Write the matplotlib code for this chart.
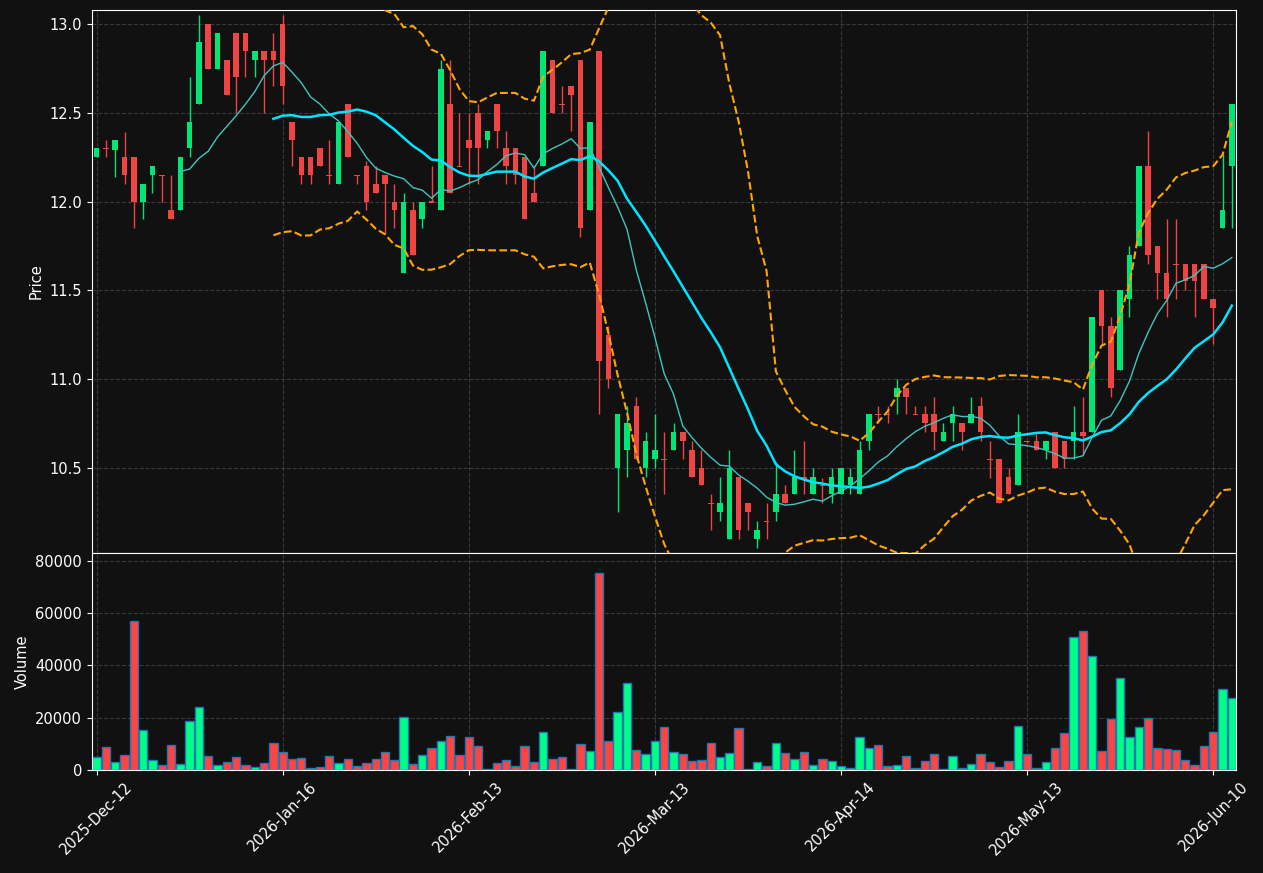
import numpy as np
import pandas as pd
import matplotlib
matplotlib.use("Agg")
import matplotlib.pyplot as plt

# ---------------------------------------------------------------------
# daily OHLCV, one row per trading session (index 0 .. 122)
opens = [12.25, 12.30, 12.29, 12.25, 12.25, 12.00, 12.15, 12.15, 11.95, 11.95,
         12.30, 12.55, 13.00, 12.75, 12.80, 12.95, 12.95, 12.80, 12.85, 12.85,
         13.00, 12.45, 12.25, 12.25, 12.30, 12.15, 12.10, 12.55, 12.15, 12.20,
         12.10, 12.15, 12.00, 11.60, 11.95, 11.90, 12.00, 11.95, 12.55, 12.20,
         12.35, 12.50, 12.35, 12.55, 12.30, 12.30, 12.25, 12.05, 12.20, 12.80,
         12.55, 12.65, 12.80, 11.95, 12.85, 11.25, 10.50, 10.60, 10.85, 10.50,
         10.55, 10.55, 10.60, 10.70, 10.60, 10.50, 10.30, 10.25, 10.10, 10.45,
         10.30, 10.10, 10.20, 10.25, 10.35, 10.35, 10.45, 10.35, 10.40, 10.35,
         10.35, 10.40, 10.35, 10.65, 10.80, 10.80, 10.90, 10.95, 10.80, 10.80,
         10.80, 10.65, 10.75, 10.75, 10.75, 10.85, 10.55, 10.55, 10.45, 10.40,
         10.65, 10.65, 10.60, 10.70, 10.65, 10.65, 10.70, 10.70, 11.50, 11.30,
         11.05, 11.45, 11.75, 12.20, 11.75, 11.60, 11.65, 11.65, 11.65, 11.65,
         11.45, 11.85, 12.20]
highs = [12.30, 12.35, 12.35, 12.39, 12.25, 12.10, 12.20, 12.15, 12.15, 12.25,
         12.70, 13.05, 13.00, 12.95, 12.80, 12.95, 12.95, 12.85, 12.85, 12.95,
         13.05, 12.45, 12.25, 12.25, 12.30, 12.35, 12.45, 12.55, 12.15, 12.23,
         12.20, 12.15, 12.10, 12.05, 12.00, 12.00, 12.20, 12.80, 12.80, 12.50,
         12.50, 12.55, 12.40, 12.55, 12.40, 12.30, 12.25, 12.20, 12.85, 12.80,
         12.65, 12.65, 12.80, 12.45, 12.85, 11.30, 10.80, 10.85, 10.90, 10.70,
         10.80, 10.70, 10.75, 10.70, 10.65, 10.60, 10.35, 10.45, 10.60, 10.45,
         10.30, 10.20, 10.30, 10.53, 10.40, 10.60, 10.65, 10.50, 10.44, 10.50,
         10.50, 10.50, 10.65, 10.80, 10.85, 10.85, 11.00, 10.95, 10.85, 10.85,
         10.90, 10.75, 10.85, 10.75, 10.90, 10.90, 10.65, 10.55, 10.50, 10.80,
         10.65, 10.70, 10.65, 10.70, 10.65, 10.85, 10.90, 11.35, 11.50, 11.35,
         11.50, 11.75, 12.20, 12.40, 11.75, 11.90, 11.90, 11.65, 11.65, 11.65,
         11.45, 12.27, 12.55]
lows = [12.25, 12.25, 12.14, 12.10, 11.85, 11.90, 12.05, 12.00, 11.90, 11.95,
        12.25, 12.55, 12.75, 12.75, 12.60, 12.50, 12.70, 12.70, 12.50, 12.65,
        12.55, 12.20, 12.10, 12.10, 12.20, 12.10, 12.10, 12.25, 12.10, 11.95,
        12.05, 11.82, 11.85, 11.60, 11.70, 11.85, 12.00, 11.95, 12.05, 12.20,
        12.10, 12.10, 12.30, 12.30, 12.10, 12.10, 11.90, 12.00, 12.20, 12.50,
        12.50, 12.40, 11.80, 11.95, 10.80, 10.95, 10.25, 10.45, 10.55, 10.45,
        10.50, 10.35, 10.60, 10.55, 10.45, 10.40, 10.15, 10.20, 10.10, 10.10,
        10.15, 10.05, 10.10, 10.20, 10.30, 10.35, 10.35, 10.35, 10.30, 10.30,
        10.35, 10.35, 10.35, 10.60, 10.75, 10.75, 10.80, 10.80, 10.80, 10.70,
        10.60, 10.65, 10.65, 10.60, 10.75, 10.65, 10.44, 10.30, 10.35, 10.40,
        10.64, 10.60, 10.55, 10.50, 10.50, 10.55, 10.57, 10.70, 11.20, 10.90,
        11.05, 11.35, 11.75, 11.65, 11.45, 11.35, 11.45, 11.50, 11.35, 11.45,
        11.20, 11.85, 11.85]
closes = [12.30, 12.295, 12.35, 12.15, 12.00, 12.10, 12.20, 12.145, 11.90, 12.25,
          12.45, 12.90, 12.75, 12.95, 12.60, 12.70, 12.85, 12.85, 12.80, 12.80,
          12.65, 12.35, 12.15, 12.15, 12.20, 12.145, 12.45, 12.25, 12.145, 12.00,
          12.05, 12.10, 11.95, 12.00, 11.70, 12.00, 11.995, 12.75, 12.05, 12.195,
          12.30, 12.30, 12.40, 12.40, 12.20, 12.15, 11.90, 12.00, 12.85, 12.50,
          12.545, 12.60, 11.85, 12.45, 11.10, 11.00, 10.80, 10.75, 10.55, 10.65,
          10.60, 10.545, 10.70, 10.65, 10.45, 10.40, 10.295, 10.30, 10.50, 10.15,
          10.25, 10.15, 10.195, 10.35, 10.30, 10.45, 10.43, 10.45, 10.395, 10.45,
          10.50, 10.45, 10.60, 10.80, 10.795, 10.795, 10.95, 10.90, 10.795, 10.75,
          10.70, 10.70, 10.80, 10.70, 10.80, 10.70, 10.545, 10.30, 10.35, 10.70,
          10.645, 10.60, 10.65, 10.50, 10.55, 10.70, 10.68, 11.35, 11.30, 10.95,
          11.50, 11.70, 12.20, 11.70, 11.60, 11.45, 11.645, 11.55, 11.55, 11.45,
          11.40, 11.95, 12.55]
volumes = [4860, 8930, 2940, 5620, 56900, 15190, 3700, 1790, 9440, 2170,
           18630, 24000, 5230, 1790, 2940, 4860, 1790, 1280, 2550, 10200,
           6760, 4080, 4470, 640, 1020, 5230, 2550, 4080, 1400, 2550,
           4080, 6760, 3700, 20170, 2170, 5620, 8290, 10980, 12900, 5620,
           12510, 9070, 300, 2550, 3700, 1400, 9070, 2940, 14430, 4080,
           4860, 250, 9840, 7160, 75290, 10980, 22080, 33180, 7540, 6010,
           10980, 16330, 6760, 6010, 3330, 3700, 10200, 4860, 6390, 15960,
           250, 2940, 1400, 10200, 6390, 4080, 6760, 1790, 4080, 3330,
           1400, 640, 12510, 8290, 9440, 1400, 1790, 5230, 640, 3330,
           6010, 250, 5230, 640, 2170, 6010, 2940, 1280, 3330, 16720,
           6010, 640, 2940, 8290, 14040, 50790, 53090, 43520, 7160, 19400,
           35100, 12510, 16330, 19780, 8290, 7920, 7540, 3700, 1790, 9070,
           14430, 30880, 27440]

tick_pos = [0, 20, 40, 60, 80, 100, 120]
tick_labels = ["2025-Dec-12", "2026-Jan-16", "2026-Feb-13", "2026-Mar-13",
               "2026-Apr-14", "2026-May-13", "2026-Jun-10"]

BG = "#111111"
UP, DOWN = "#00e676", "#ef4444"
VUP, VDOWN = "#00ff88", "#ff4444"

plt.rcParams.update({
    "font.size": 10.5,
    "text.color": "white",
    "axes.labelcolor": "white",
    "xtick.color": "white",
    "ytick.color": "white",
    "axes.edgecolor": "white",
})

df = pd.DataFrame({"open": opens, "high": highs, "low": lows,
                   "close": closes, "volume": volumes})
x = np.arange(len(df))
up = df["close"] >= df["open"]

# indicators: 10/20 moving averages, 20-period Bollinger bands
ma10 = df["close"].rolling(10).mean()
ma20 = df["close"].rolling(20).mean()
sd20 = df["close"].rolling(20).std(ddof=0)
bb_up = ma20 + 2 * sd20
bb_lo = ma20 - 2 * sd20

fig = plt.figure(figsize=(12.63, 8.73), dpi=100, facecolor=BG)
gs = fig.add_gridspec(2, 1, height_ratios=[5, 2], hspace=0,
                      left=0.0728, right=0.979, top=0.9885, bottom=0.118)
ax = fig.add_subplot(gs[0])
axv = fig.add_subplot(gs[1], sharex=ax)

for a in (ax, axv):
    a.set_facecolor(BG)
    a.grid(True, linestyle="--", color="#555555", lw=0.8, alpha=0.6)
    a.set_axisbelow(True)

# candles
colors = np.where(up, UP, DOWN)
ax.vlines(x, df["low"], df["high"], color=colors, lw=1, zorder=2)
body = (df["close"] - df["open"]).abs().clip(lower=0.006)
bottom = df[["open", "close"]].min(axis=1)
ax.bar(x, body, bottom=bottom, width=0.6, color=colors, zorder=3)

ax.plot(x, ma10, color="#3fc4c0", lw=1, zorder=4)
ax.plot(x, ma20, color="#00e5ff", lw=1.8, zorder=4)
ax.plot(x, bb_up, color="orange", lw=1.5, ls="--", zorder=4)
ax.plot(x, bb_lo, color="orange", lw=1.5, ls="--", zorder=4)

ax.set_ylim(10.02, 13.08)
ax.set_xlim(-0.5, 122.5)
ax.set_ylabel("Price")
ax.tick_params(axis="x", labelbottom=False)

# volume
vcolors = np.where(up, VUP, VDOWN)
axv.bar(x, df["volume"], width=0.9, color=vcolors, edgecolor="#1f77b4", lw=1)
axv.set_ylim(0, 83000)
axv.set_yticks([0, 20000, 40000, 60000, 80000])
axv.set_ylabel("Volume")
axv.set_xticks(tick_pos)
axv.set_xticklabels(tick_labels, rotation=45)

fig.savefig("out.png", dpi=100, facecolor=BG)
